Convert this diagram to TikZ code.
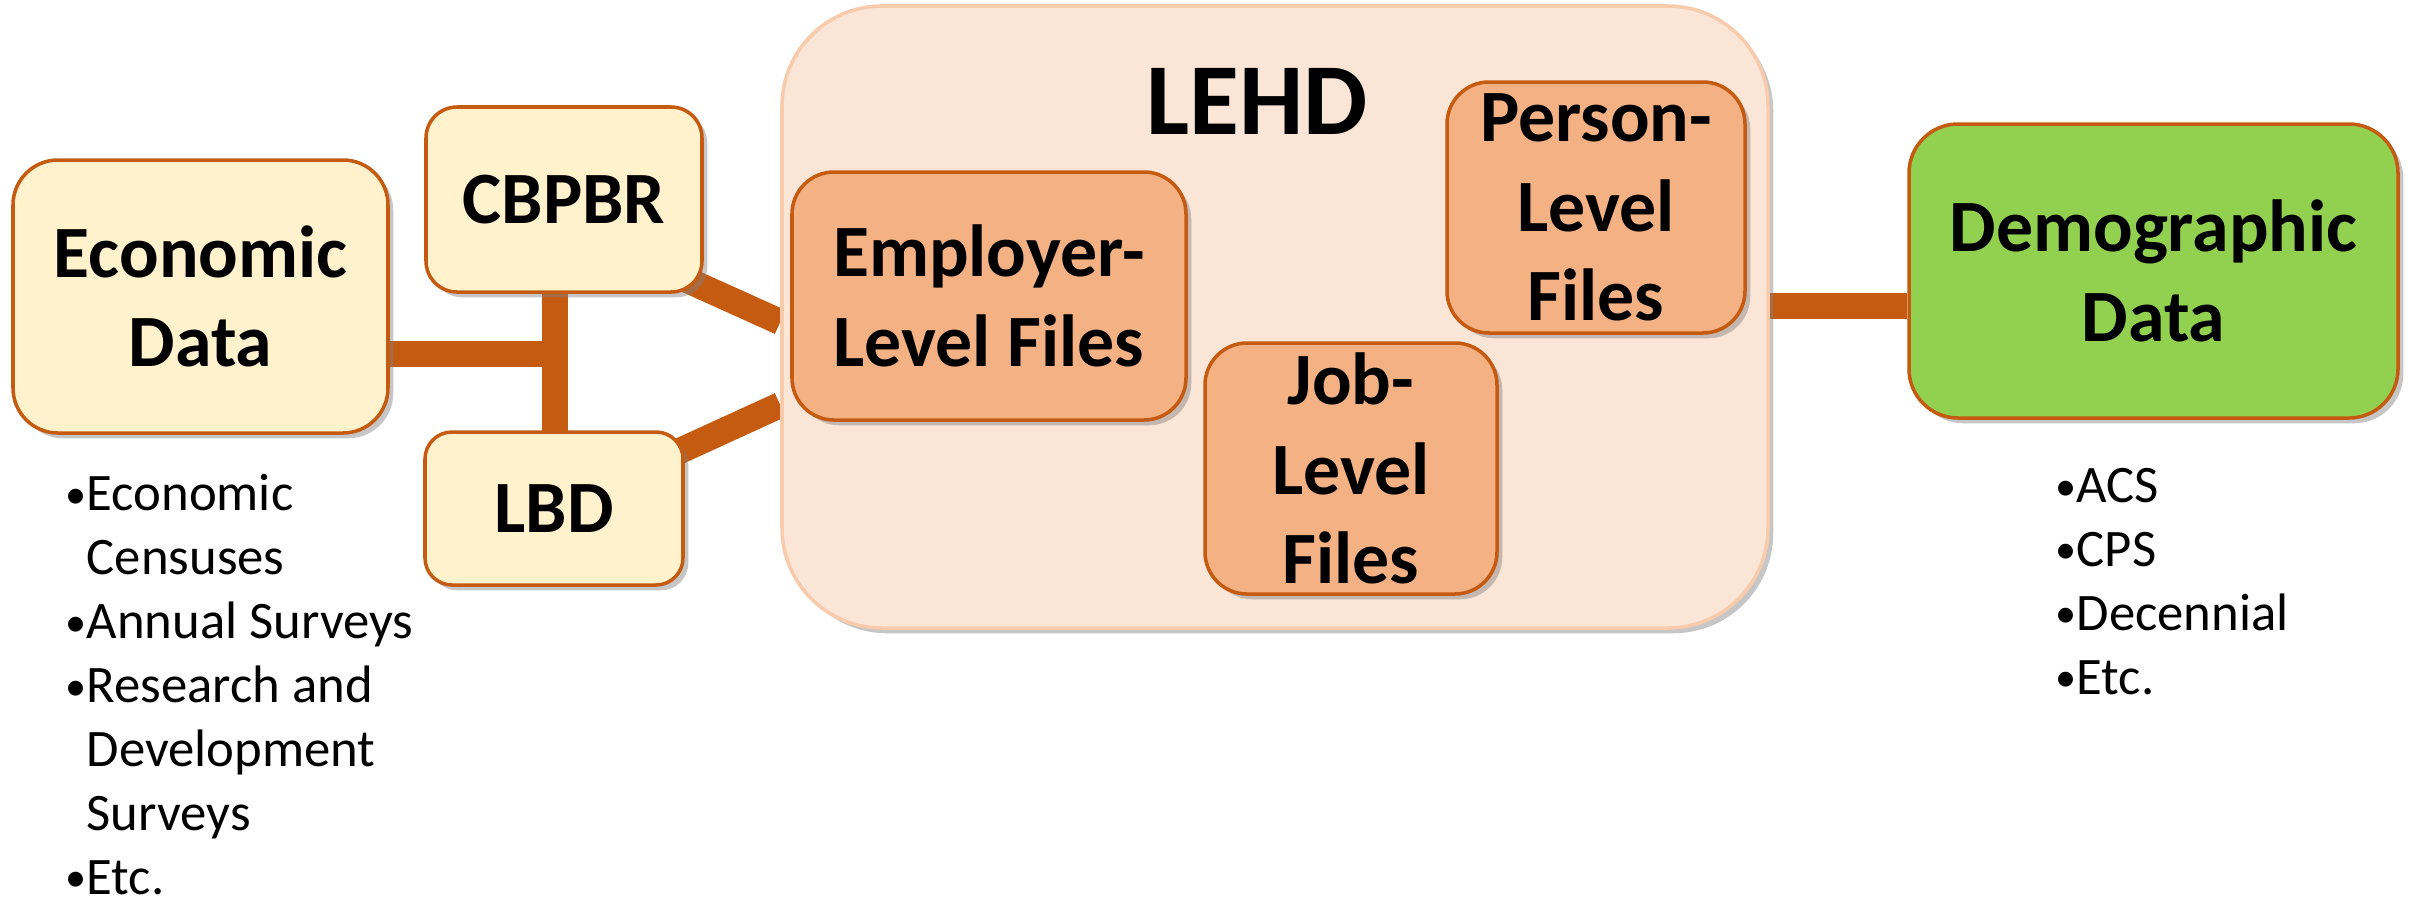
\documentclass[tikz,border=0pt]{standalone}
\usepackage{fontspec}
\setmainfont{Carlito}
\usetikzlibrary{shadows}
\usetikzlibrary{backgrounds}

\definecolor{rust}{HTML}{C55A11}
\definecolor{cream}{HTML}{FFF2CC}
\definecolor{peach}{HTML}{FBE5D6}
\definecolor{peachline}{HTML}{F8CBAD}
\definecolor{salmon}{HTML}{F4B183}
\definecolor{leaf}{HTML}{92D050}

\newcommand{\boxfont}{\fontsize{21pt}{25.5pt}\selectfont\bfseries}
\newcommand{\listfont}{\fontsize{15pt}{18.2pt}\selectfont}
\newcommand{\itembul}{\makebox[0.21cm][l]{\raisebox{0.6pt}{\fontsize{12pt}{12pt}\selectfont\textbullet}}}
\newcommand{\itemgap}{\hspace*{0.21cm}}

\begin{document}
\begin{tikzpicture}[
        databox/.style={draw=rust, line width=1pt, fill=cream, inner sep=0pt, align=center,
                font=\boxfont, drop shadow={shadow xshift=1.5pt, shadow yshift=-1.5pt, opacity=0.45}},
        filebox/.style={databox, fill=salmon},
        link/.style={draw=rust, line width=7.4pt},
        bullets/.style={align=left, inner sep=0pt, font=\listfont}
    ]

    \useasboundingbox (0,0) rectangle (24.12,-9.00);

    % sources on the left
    \node[databox, minimum width=3.75cm, minimum height=2.73cm, rounded corners=0.45cm] (econ) at (2.005,-2.965) {Economic\\Data};
    \node[databox, minimum width=2.76cm, minimum height=1.85cm, rounded corners=0.31cm] (cbpbr) at (5.64,-1.995) {CBPBR};
    \node[databox, minimum width=2.58cm, minimum height=1.53cm, rounded corners=0.27cm] (lbd) at (5.54,-5.085) {LBD};

    % LEHD and its files
    \node[databox, draw=peachline, fill=peach, minimum width=9.86cm, minimum height=6.22cm, rounded corners=1cm] (lehd) at (12.75,-3.17) {};
    \node[font=\fontsize{29pt}{34pt}\selectfont\bfseries, inner sep=0pt] (title) at (12.57,-1.015) {LEHD};
    \node[filebox, minimum width=3.94cm, minimum height=2.48cm, rounded corners=0.42cm] (employer) at (9.89,-2.96) {Employer-\\Level Files};
    \node[filebox, minimum width=2.98cm, minimum height=2.51cm, rounded corners=0.42cm] (person) at (15.96,-2.075) {Person-\\Level\\Files};
    \node[filebox, minimum width=2.92cm, minimum height=2.51cm, rounded corners=0.42cm] (job) at (13.51,-4.685) {Job-\\Level\\Files};

    % demographic side
    \node[databox, fill=leaf, minimum width=4.89cm, minimum height=2.94cm, rounded corners=0.49cm] (demo) at (21.535,-2.71) {Demographic\\Data};

    % lists (base = last line)
    \node[bullets, anchor=base west] (econlist) at (0.65,-8.94) {\itembul Economic\\ \itemgap Censuses\\ \itembul Annual Surveys\\ \itembul Research and\\ \itemgap Development\\ \itemgap Surveys\\ \itembul Etc.};
    \node[bullets, anchor=base west] (demolist) at (20.55,-6.94) {\itembul ACS\\ \itembul CPS\\ \itembul Decennial\\ \itembul Etc.};

    % connectors behind the boxes
    \begin{scope}[on background layer]
        \coordinate (jn) at (5.55,-3.535);
        \draw[link] (econ.east |- jn) -- (jn);
        \draw[link] (jn |- cbpbr.center) -- (jn |- lbd.center);
        \coordinate (cin) at ([yshift=-0.05cm]lehd.west);
        \coordinate (lin) at ([yshift=-0.88cm]lehd.west);
        \draw[link] ([yshift=-0.25cm]cbpbr.center) -- (cin);
        \draw[link] (lbd.center) -- (lin);
        \coordinate (dj) at ([yshift=-0.35cm]demo.west);
        \draw[link] (dj -| lehd.east) -- (dj);
    \end{scope}

\end{tikzpicture}
\end{document}
